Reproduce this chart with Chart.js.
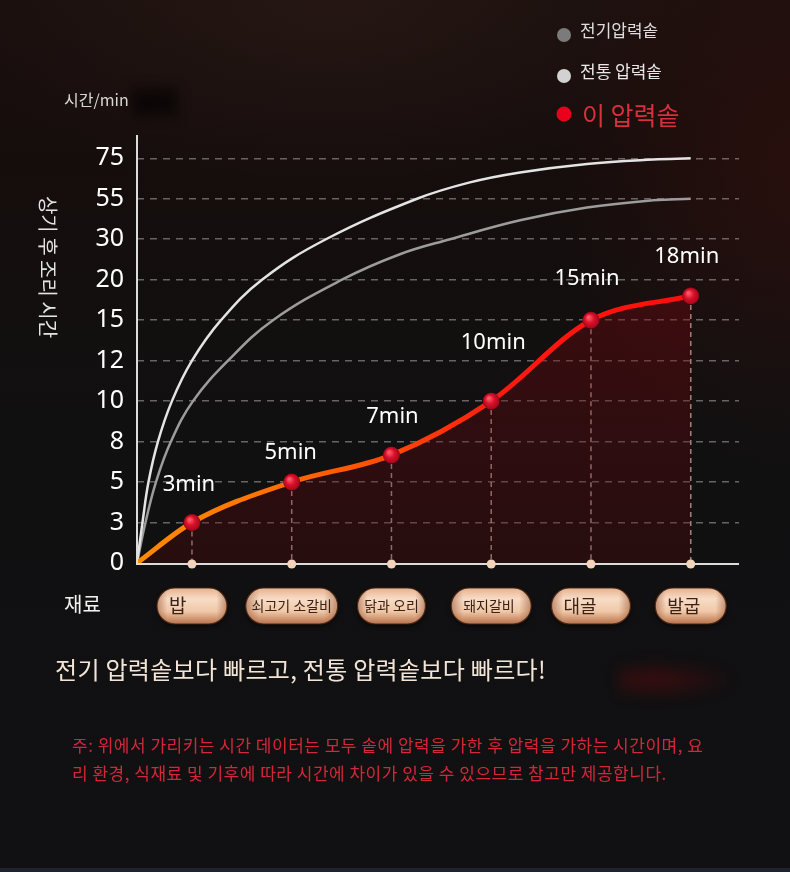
<!DOCTYPE html>
<html>
<head>
<meta charset="utf-8">
<script src="https://cdn.jsdelivr.net/npm/chart.js@4.4.1/dist/chart.umd.min.js"></script>
<style>
html,body{margin:0;padding:0;width:790px;height:872px;overflow:hidden;}
body{
  position:relative;
  font-family:"Noto Sans CJK KR","Noto Sans",sans-serif;
  background:
    radial-gradient(ellipse 240px 300px at 790px 170px, rgba(62,18,14,0.45), rgba(0,0,0,0)),
    radial-gradient(ellipse 380px 200px at 330px 0px, rgba(48,30,26,0.5), rgba(0,0,0,0)),
    linear-gradient(#1a0f0d 0px, #150d0c 160px, #111011 420px, #111012 872px);
}
#c{position:absolute;left:0;top:0;}
.blob{position:absolute;filter:blur(6px);}
.headline{position:absolute;left:55px;top:653px;font-size:24px;letter-spacing:0.3px;line-height:32px;color:#f2e4d6;white-space:nowrap;}
.note{position:absolute;left:72px;top:731px;font-size:17px;letter-spacing:0.5px;line-height:28px;color:#d2283a;white-space:nowrap;}
.strip{position:absolute;left:0;top:868px;width:790px;height:4px;background:#1c2430;}
</style>
</head>
<body>
<div class="blob" style="left:618px;top:660px;width:120px;height:40px;background:radial-gradient(ellipse at 30% 50%, rgba(110,10,12,0.45), rgba(0,0,0,0) 70%);"></div>
<div class="blob" style="left:132px;top:88px;width:46px;height:28px;background:rgba(5,3,3,0.7);"></div>
<canvas id="c" width="790" height="872"></canvas>
<div class="headline">전기 압력솥보다 빠르고, 전통 압력솥보다 빠르다!</div>
<div class="note">주: 위에서 가리키는 시간 데이터는 모두 솥에 압력을 가한 후 압력을 가하는 시간이며, 요<br>리 환경, 식재료 및 기후에 따라 시간에 차이가 있을 수 있으므로 참고만 제공합니다.</div>
<div class="strip"></div>
<script>
// ---- data ----
const categories = ['밥', '쇠고기 소갈비', '닭과 오리', '돼지갈비', '대골', '발굽'];
const thisCookerMinutes = [3, 5, 7, 10, 15, 18];
const yTickLabels = [0, 3, 5, 8, 10, 12, 15, 20, 30, 55, 75];
const seriesNames = ['전기압력솥', '전통 압력솥', '이 압력솥'];
const originX = -0.551;
// comparison curves (x in category units, value in minutes)
const traditionalX = [originX, -0.496, -0.436, -0.341, -0.201, 0, 0.291, 0.702, 1.343, 2.256, 2.787, 3.289, 3.960, 4.622, 5.0];
const traditionalMinutes = [0, 3, 5, 8, 10, 12, 15, 20, 30, 55, 63.1, 68.0, 72.2, 74.4, 75];
const electricX = [originX, -0.466, -0.361, -0.211, 0.010, 0.361, 0.812, 1.504, 2.085, 2.587, 3.289, 3.960, 4.622, 5.0];
const electricMinutes = [0, 3, 5, 8, 10, 12, 15, 20, 26.3, 30, 41.7, 49.55, 54.05, 55];

// map minutes onto the evenly spaced tick positions
function toAxis(v) {
  for (let i = 0; i < yTickLabels.length - 1; i++) {
    const a = yTickLabels[i], b = yTickLabels[i + 1];
    if (v >= a && v <= b) return i + (v - a) / (b - a);
  }
  return yTickLabels.length - 1;
}
const pts = (xs, vs) => xs.map((x, i) => ({x: x, y: toAxis(vs[i])}));

const redData = [{x: originX, y: 0}].concat(thisCookerMinutes.map((v, i) => ({x: i, y: toAxis(v)})));

const FONT_KR = '"Noto Sans CJK KR", "Noto Sans", sans-serif';
const FONT_LAT = '"Noto Sans", "Noto Sans CJK KR", sans-serif';

const labelDx = [-3, -1, 1, 2, -4, -4];
const labelDy = [-38, -29, -38, -58, -41, -39];
const pillW = [70, 92, 68, 80, 79, 71];
const pillFont = [19, 14, 14, 14, 18, 18];

const decor = {
  id: 'decor',
  beforeDatasetsDraw(chart) {
    const ctx = chart.ctx, ca = chart.chartArea;
    const meta = chart.getDatasetMeta(0);
    ctx.save();
    ctx.strokeStyle = 'rgba(225,195,185,0.75)';
    ctx.lineWidth = 1.5;
    ctx.setLineDash([5, 4]);
    meta.data.forEach((p, i) => {
      if (i === 0) return;
      ctx.beginPath();
      ctx.moveTo(p.x, p.y);
      ctx.lineTo(p.x, ca.bottom);
      ctx.stroke();
    });
    ctx.restore();
  },
  afterDatasetsDraw(chart) {
    const ctx = chart.ctx, ca = chart.chartArea, xs = chart.scales.x;
    ctx.save();
    ctx.strokeStyle = '#dcdcdc';
    ctx.lineWidth = 2;
    ctx.beginPath();
    ctx.moveTo(ca.left, ca.top);
    ctx.lineTo(ca.left, ca.bottom + 1);
    ctx.lineTo(ca.right, ca.bottom + 1);
    ctx.stroke();
    categories.forEach((c, i) => {
      const x = xs.getPixelForValue(i);
      ctx.beginPath();
      ctx.arc(x, ca.bottom + 1, 4.5, 0, Math.PI * 2);
      ctx.fillStyle = '#f2d3bb';
      ctx.fill();
    });
    const meta = chart.getDatasetMeta(0);
    meta.data.forEach((p, i) => {
      if (i === 0) return;
      const g = ctx.createRadialGradient(p.x - 2.5, p.y - 3, 1, p.x, p.y, 9);
      g.addColorStop(0, '#ff5566');
      g.addColorStop(0.45, '#d8112a');
      g.addColorStop(1, '#9a0618');
      ctx.beginPath();
      ctx.arc(p.x, p.y, 8, 0, Math.PI * 2);
      ctx.fillStyle = g;
      ctx.fill();
    });
    ctx.restore();
  },
  afterDraw(chart) {
    const ctx = chart.ctx, xs = chart.scales.x;
    ctx.save();
    const meta = chart.getDatasetMeta(0);
    ctx.fillStyle = '#ffffff';
    ctx.font = '22px ' + FONT_LAT;
    ctx.textAlign = 'center';
    ctx.textBaseline = 'middle';
    thisCookerMinutes.forEach((v, i) => {
      const p = meta.data[i + 1];
      ctx.fillText(v + 'min', p.x + labelDx[i], p.y + labelDy[i]);
    });
    ctx.textAlign = 'left';
    ctx.fillStyle = '#d8d8d8';
    ctx.font = '16px ' + FONT_KR;
    ctx.fillText('시간/min', 64, 100);
    ctx.save();
    ctx.translate(48, 267);
    ctx.rotate(Math.PI / 2);
    ctx.textAlign = 'center';
    ctx.fillStyle = '#e4e4e4';
    ctx.font = '20px ' + FONT_KR;
    ctx.fillText('상기 후 조리 시간', 0, 0);
    ctx.restore();
    ctx.fillStyle = '#f2f2f2';
    ctx.font = '20px ' + FONT_KR;
    ctx.fillText('재료', 64, 604);
    categories.forEach((c, i) => {
      const cx = xs.getPixelForValue(i), cy = 606, w = pillW[i], h = 36;
      const x0 = cx - w / 2, y0 = cy - h / 2, r = h / 2;
      ctx.save();
      ctx.shadowColor = 'rgba(0,0,0,0.6)';
      ctx.shadowBlur = 4;
      ctx.shadowOffsetY = 2;
      ctx.beginPath();
      ctx.roundRect(x0, y0, w, h, r);
      const g = ctx.createLinearGradient(0, y0, 0, y0 + h);
      g.addColorStop(0, '#e6b18e');
      g.addColorStop(0.3, '#f7dcc6');
      g.addColorStop(0.65, '#f0c8a8');
      g.addColorStop(1, '#b8714a');
      ctx.fillStyle = g;
      ctx.fill();
      ctx.restore();
      ctx.beginPath();
      ctx.roundRect(x0, y0, w, h, r);
      const gh = ctx.createLinearGradient(x0, 0, x0 + w, 0);
      gh.addColorStop(0, 'rgba(150,80,45,0.55)');
      gh.addColorStop(0.15, 'rgba(150,80,45,0)');
      gh.addColorStop(0.85, 'rgba(150,80,45,0)');
      gh.addColorStop(1, 'rgba(150,80,45,0.55)');
      ctx.fillStyle = gh;
      ctx.fill();
      ctx.strokeStyle = 'rgba(70,35,18,0.9)';
      ctx.lineWidth = 1.2;
      ctx.stroke();
      ctx.fillStyle = '#3a2216';
      ctx.font = pillFont[i] + 'px ' + FONT_KR;
      ctx.textAlign = 'left';
      ctx.textBaseline = 'middle';
      const tw = ctx.measureText(c).width;
      const tx = Math.max(x0 + 4, Math.min(x0 + 12, cx - tw / 2));
      ctx.fillText(c, tx, cy);
    });
    const legendColors = ['#7b7b7b', '#d2d2d2', '#e8001c'];
    const legendText = ['#dedede', '#e8e8e8', '#d8303c'];
    const legendY = [35, 76, 114];
    const legendFont = [17, 17, 25];
    const legendR = [7, 7, 7.5];
    seriesNames.forEach((n, i) => {
      ctx.beginPath();
      ctx.arc(564, legendY[i], legendR[i], 0, Math.PI * 2);
      ctx.fillStyle = legendColors[i];
      ctx.fill();
      ctx.fillStyle = legendText[i];
      ctx.font = legendFont[i] + 'px ' + FONT_KR;
      ctx.textAlign = 'left';
      ctx.textBaseline = 'middle';
      ctx.fillText(n, i === 2 ? 582 : 580, legendY[i] - (i === 2 ? -1 : 4));
    });
    ctx.restore();
  }
};

new Chart(document.getElementById('c'), {
  type: 'line',
  data: {
    datasets: [
      {
        label: seriesNames[2],
        data: redData,
        order: 0,
        borderWidth: 5,
        borderColor(c) {
          const ca = c.chart.chartArea;
          if (!ca) return '#ff2000';
          const g = c.chart.ctx.createLinearGradient(ca.left, 0, ca.right, 0);
          g.addColorStop(0, '#ff8a00');
          g.addColorStop(0.2, '#ff7400');
          g.addColorStop(0.42, '#ff4a06');
          g.addColorStop(0.6, '#ff1a10');
          g.addColorStop(1, '#ff0a0a');
          return g;
        },
        backgroundColor(c) {
          const ca = c.chart.chartArea;
          if (!ca) return 'rgba(100,8,14,0.3)';
          const g = c.chart.ctx.createLinearGradient(0, ca.top + 120, 0, ca.bottom);
          g.addColorStop(0, 'rgba(120,8,16,0.42)');
          g.addColorStop(1, 'rgba(90,8,10,0.3)');
          return g;
        },
        fill: 'origin',
        cubicInterpolationMode: 'monotone',
        pointRadius: redData.map((d, i) => i === 0 ? 0 : 8),
        pointBackgroundColor: '#d01128',
        pointBorderColor: '#8a0515',
        pointBorderWidth: 1
      },
      {
        label: seriesNames[1],
        data: pts(traditionalX, traditionalMinutes),
        order: 1,
        borderColor: '#e4e4e4',
        borderWidth: 2.5,
        pointRadius: 0,
        fill: false,
        tension: 0.4
      },
      {
        label: seriesNames[0],
        data: pts(electricX, electricMinutes),
        order: 2,
        borderColor: '#9c9c9c',
        borderWidth: 2.5,
        pointRadius: 0,
        fill: false,
        tension: 0.4
      }
    ]
  },
  options: {
    responsive: false,
    animation: false,
    layout: {padding: {left: 47, right: 51, top: 135, bottom: 309}},
    plugins: {legend: {display: false}, tooltip: {enabled: false}},
    scales: {
      x: {type: 'linear', min: originX, max: 5.484, display: false},
      y: {
        type: 'linear',
        min: 0,
        max: 10.576,
        afterBuildTicks(s) { s.ticks = yTickLabels.map((_, i) => ({value: i})); },
        afterFit(s) { s.width = 90; },
        ticks: {
          color: '#ffffff',
          padding: 13,
          font: {family: FONT_LAT, size: 25},
          callback(v) { return String(yTickLabels[v]); }
        },
        grid: {
          color(c) { return c.tick && c.tick.value === 0 ? 'rgba(0,0,0,0)' : 'rgba(185,185,185,0.5)'; },
          lineWidth: 1.5,
          drawTicks: false
        },
        border: {display: false, dash: [7, 6]}
      }
    }
  },
  plugins: [decor]
});
</script>
</body>
</html>
